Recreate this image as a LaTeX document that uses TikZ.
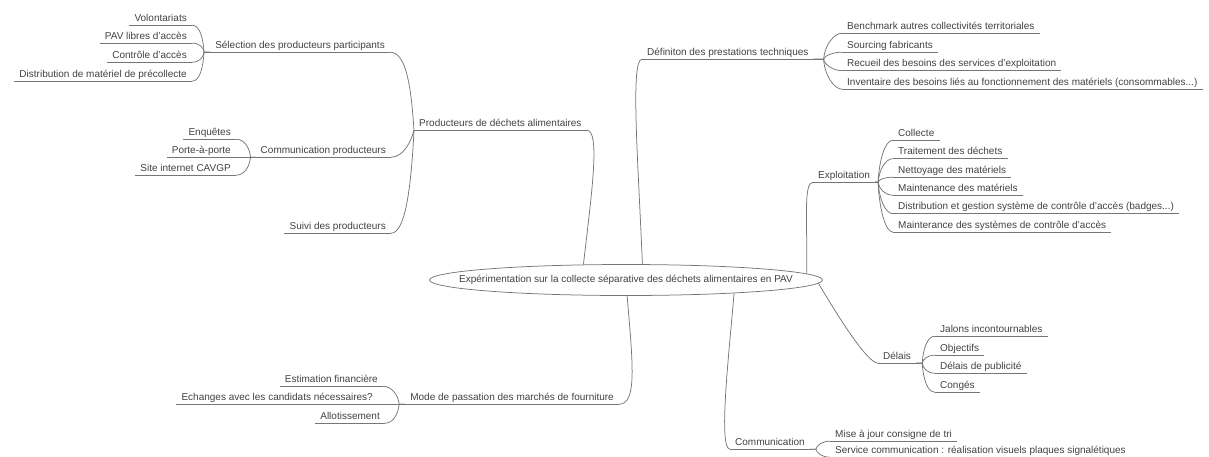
\documentclass[tikz,border=0pt]{standalone}
\usepackage{fontspec}
\setmainfont{Liberation Sans}
\usetikzlibrary{calc,shapes.geometric}
\definecolor{ln}{RGB}{118,118,118}
\definecolor{txt}{RGB}{65,65,65}
\begin{document}
\begin{tikzpicture}[x=1pt,y=1pt,
  line/.style={draw=ln, line width=0.75pt},
  topic/.style={font=\fontsize{10}{12}\selectfont, text=txt, inner xsep=5pt, inner ysep=1.8pt, text height=7.5pt, text depth=2.2pt},
  lt/.style={topic, anchor=base east},
  rt/.style={topic, anchor=base west},
  rootshape/.style={ellipse, draw=ln, line width=0.75pt, minimum width=393pt, minimum height=31pt, inner sep=0pt},
  roottext/.style={font=\fontsize{10}{12}\selectfont, text=txt}]
\useasboundingbox (0,0) rectangle (1209,-456);

% central topic
\node[rootshape, label={[roottext]center:Expérimentation sur la collecte séparative des déchets alimentaires en PAV}] (root) at (626,-280) {};

% left side
\node[rt] (prod) at (414,-126) {Producteurs de déchets alimentaires};
\node[lt] (sel) at (390,-48) {Sélection des producteurs participants};
\node[lt] (vol) at (192,-21) {Volontariats};
\node[lt] (pav) at (192,-39) {PAV libres d'accès};
\node[lt] (ctrl) at (192,-58) {Contrôle d'accès};
\node[lt] (dist) at (192,-77) {Distribution de matériel de précollecte};
\node[lt] (comm) at (391,-153) {Communication producteurs};
\node[lt] (enq) at (236,-135) {Enquêtes};
\node[lt] (porte) at (236,-153) {Porte-à-porte};
\node[lt] (site) at (236,-171) {Site internet CAVGP};
\node[lt] (suivi) at (391,-229) {Suivi des producteurs};
\node[lt] (mode) at (619,-400) {Mode de passation des marchés de fourniture};
\node[lt] (est) at (383,-382) {Estimation financière};
\node[lt] (ech) at (378,-400) {Echanges avec les candidats nécessaires?};
\node[lt] (allot) at (385,-419) {Allotissement};

% right side
\node[rt] (def) at (642,-55) {Définiton des prestations techniques};
\node[rt] (bench) at (842,-29) {Benchmark autres collectivités territoriales};
\node[rt] (sourc) at (842,-48) {Sourcing fabricants};
\node[rt] (recu) at (842,-66.5) {Recueil des besoins des services d'exploitation};
\node[rt] (inv) at (842,-85) {Inventaire des besoins liés au fonctionnement des matériels (consommables...)};
\node[rt] (expl) at (813,-178) {Exploitation};
\node[rt] (coll) at (893,-136) {Collecte};
\node[rt] (trait) at (893,-154.5) {Traitement des déchets};
\node[rt] (nett) at (893,-173) {Nettoyage des matériels};
\node[rt] (maint) at (893,-191) {Maintenance des matériels};
\node[rt] (distb) at (893,-209.5) {Distribution et gestion système de contrôle d'accès (badges...)};
\node[rt] (msys) at (893,-228) {Mainterance des systèmes de contrôle d'accès};
\node[rt] (delais) at (878,-359) {Délais};
\node[rt] (jal) at (935,-332) {Jalons incontournables};
\node[rt] (obj) at (935,-351) {Objectifs};
\node[rt] (pub) at (935,-369) {Délais de publicité};
\node[rt] (cong) at (935,-388) {Congés};
\node[rt] (comr) at (730,-445) {Communication};
\node[rt] (maj) at (830,-437) {Mise à jour consigne de tri};
\node[rt] (serv) at (830,-453) {Service communication : réalisation visuels plaques signalétiques};

% underlines
\foreach \n in {prod,sel,vol,pav,ctrl,dist,comm,enq,porte,site,suivi,mode,est,ech,allot,
  def,bench,sourc,recu,inv,expl,coll,trait,nett,maint,distb,msys,delais,jal,obj,pub,cong,comr,maj,serv}
  \draw[line] (\n.south west) -- (\n.south east);

% main branches
\draw[line] (root.160.2) .. controls +(8,70) and +(14,0) .. (prod.south east);
\draw[line] (root.44) .. controls +(-4,100) and +(-12,0) .. (def.south west);
\draw[line] (root.2.24) .. controls +(1,50) and +(-10,0) .. (expl.south west);
\draw[line] (root.-1.62) .. controls +(12,-20) and +(-12,0) .. (delais.south west);
\draw[line] (root.-86.3) .. controls +(6,-70) and +(18,0) .. (mode.south east);
\draw[line] (root.-7.5) .. controls +(-5,-60) and +(-12,0) .. (comr.south west);

% producteurs
\draw[line] (prod.south west) .. controls +(-3,45) and +(16,0) .. (sel.south east);
\draw[line] (prod.south west) .. controls +(-3,-12) and +(12,0) .. (comm.south east);
\draw[line] (prod.south west) .. controls +(-3,-60) and +(14,0) .. (suivi.south east);

\draw[line] (sel.south west) -- ++(-6,0) .. controls +(-1,14) and +(8,0) .. (vol.south east);
\draw[line] (sel.south west) -- ++(-6,0) .. controls +(-1,5) and +(8,0) .. (pav.south east);
\draw[line] (sel.south west) -- ++(-6,0) .. controls +(-1,-5) and +(8,0) .. (ctrl.south east);
\draw[line] (sel.south west) -- ++(-6,0) .. controls +(-1,-15) and +(8,0) .. (dist.south east);

\draw[line] (comm.south west) -- ++(-5,0) .. controls +(-1,10) and +(8,0) .. (enq.south east);
\draw[line] (comm.south west) -- (porte.south east);
\draw[line] (comm.south west) -- ++(-5,0) .. controls +(-1,-10) and +(8,0) .. (site.south east);

\draw[line] (mode.south west) -- ++(-6,0) .. controls +(-1,10) and +(8,0) .. (est.south east);
\draw[line] (mode.south west) -- (ech.south east);
\draw[line] (mode.south west) -- ++(-6,0) .. controls +(-1,-10) and +(8,0) .. (allot.south east);

% definition
\draw[line] (def.south east) -- ++(10,0) .. controls +(1,14) and +(-8,0) .. (bench.south west);
\draw[line] (def.south east) -- ++(10,0) .. controls +(1,4) and +(-8,0) .. (sourc.south west);
\draw[line] (def.south east) -- ++(10,0) .. controls +(1,-6) and +(-8,0) .. (recu.south west);
\draw[line] (def.south east) -- ++(10,0) .. controls +(1,-16) and +(-8,0) .. (inv.south west);

% exploitation
\draw[line] (expl.south east) -- ++(3,0) .. controls +(1,22) and +(-8,0) .. (coll.south west);
\draw[line] (expl.south east) -- ++(3,0) .. controls +(1,12) and +(-8,0) .. (trait.south west);
\draw[line] (expl.south east) -- ++(3,0) .. controls +(1,3) and +(-8,0) .. (nett.south west);
\draw[line] (expl.south east) -- ++(3,0) .. controls +(1,-7) and +(-8,0) .. (maint.south west);
\draw[line] (expl.south east) -- ++(3,0) .. controls +(1,-16) and +(-8,0) .. (distb.south west);
\draw[line] (expl.south east) -- ++(3,0) .. controls +(1,-25) and +(-8,0) .. (msys.south west);

% delais
\draw[line] (delais.south east) -- ++(6,0) .. controls +(1,14) and +(-8,0) .. (jal.south west);
\draw[line] (delais.south east) -- ++(6,0) .. controls +(1,4) and +(-8,0) .. (obj.south west);
\draw[line] (delais.south east) -- ++(6,0) .. controls +(1,-5) and +(-8,0) .. (pub.south west);
\draw[line] (delais.south east) -- ++(6,0) .. controls +(1,-15) and +(-8,0) .. (cong.south west);

% communication
\draw[line] (comr.south east) -- ++(6,0) .. controls +(1,4) and +(-8,0) .. (maj.south west);
\draw[line] (comr.south east) -- ++(6,0) .. controls +(1,-4) and +(-8,0) .. (serv.south west);
\end{tikzpicture}
\end{document}
